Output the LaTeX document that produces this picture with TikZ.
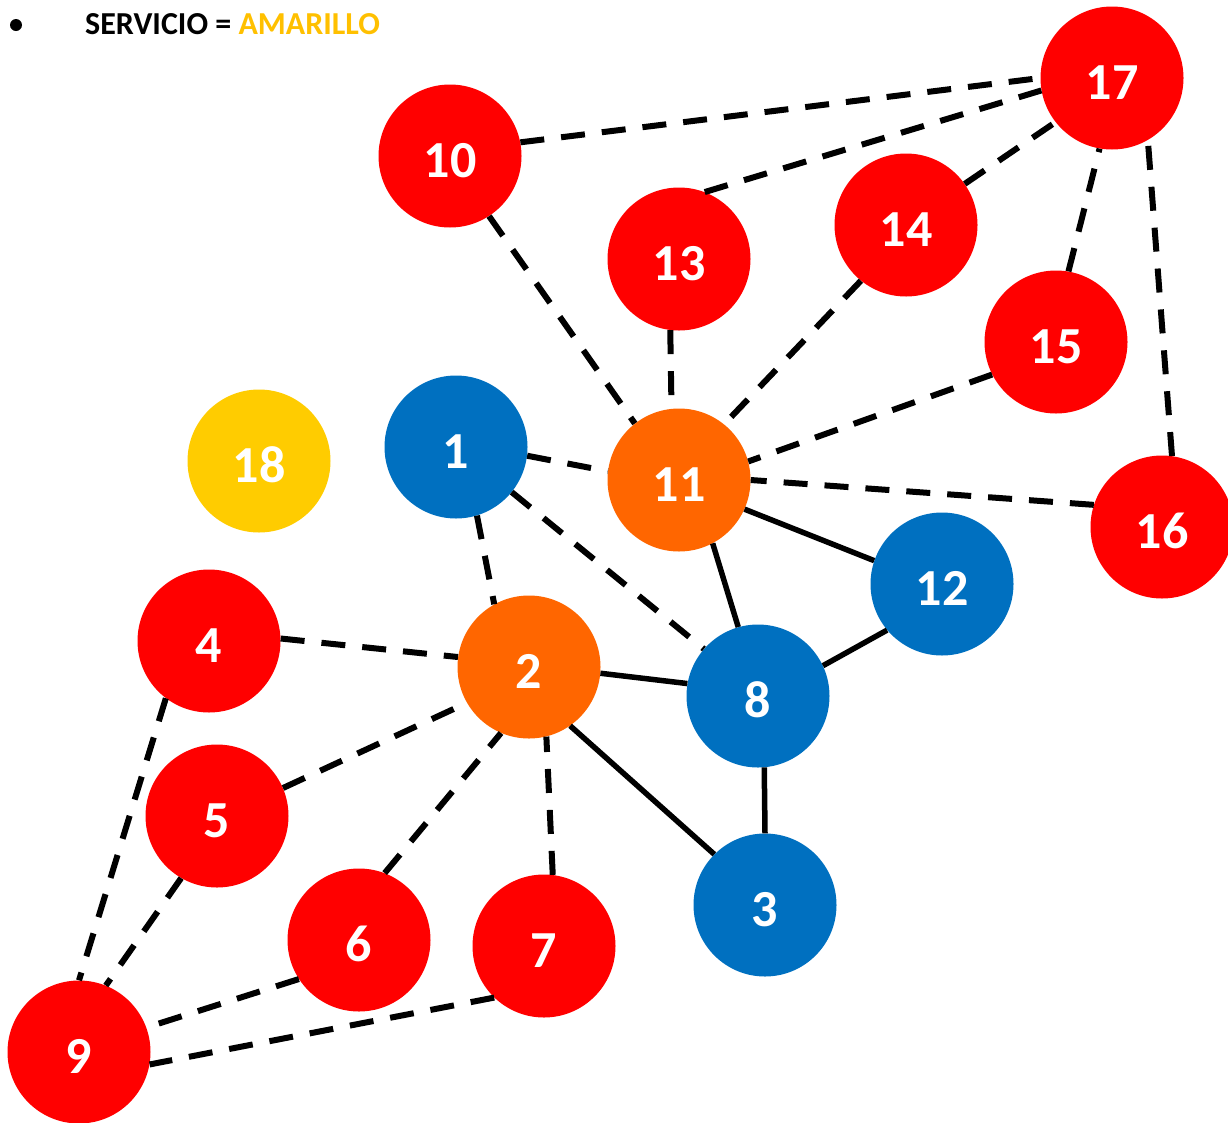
\documentclass[tikz,border=0pt]{standalone}
\usepackage{fontspec}
\setmainfont{Carlito}
\usepackage{tikz}
\definecolor{rojo}{HTML}{FF0000}
\definecolor{azul}{HTML}{0070C0}
\definecolor{naranja}{HTML}{FF6600}
\definecolor{amarillo}{HTML}{FFCC00}
\definecolor{amarillotxt}{HTML}{FFC000}
\tikzset{
  vert/.style={circle,minimum size=143pt,inner sep=0pt,text=white,
    font=\fontsize{52}{60}\selectfont\bfseries,text height=43pt,text depth=0pt},
  dashedge/.style={line width=6pt,dash pattern=on 24pt off 17pt},
  solidedge/.style={line width=5.5pt}
}
\begin{document}
\begin{tikzpicture}[x=1pt,y=-1pt]
\useasboundingbox (0,0) rectangle (1228,1122);
% title
\fill (16,25) circle (6);
\node[anchor=base west,inner sep=0pt,font=\fontsize{32}{36}\selectfont\bfseries] (title) at (85,34) {SERVICIO = \textcolor{amarillotxt}{AMARILLO}};
% vertices
\node[vert,fill=rojo] (v17) at (1112,78) {17};
\node[vert,fill=rojo] (v10) at (450,156) {10};
\node[vert,fill=rojo] (v13) at (679,259) {13};
\node[vert,fill=rojo] (v14) at (906,225) {14};
\node[vert,fill=rojo] (v15) at (1056,342) {15};
\node[vert,fill=amarillo] (v18) at (259,461) {18};
\node[vert,fill=azul] (v1) at (456,447) {1};
\node[vert,fill=naranja] (v11) at (679,480) {11};
\node[vert,fill=rojo] (v16) at (1162,527) {16};
\node[vert,fill=azul] (v12) at (942,584) {12};
\node[vert,fill=rojo] (v4) at (209,641) {4};
\node[vert,fill=naranja] (v2) at (529,667) {2};
\node[vert,fill=azul] (v8) at (758,696) {8};
\node[vert,fill=rojo] (v5) at (217,816) {5};
\node[vert,fill=rojo] (v6) at (359,940) {6};
\node[vert,fill=rojo] (v7) at (544,946) {7};
\node[vert,fill=azul] (v3) at (765,905) {3};
\node[vert,fill=rojo] (v9) at (79,1052) {9};
% dashed edges (node/angle -- node/angle)
\foreach \a/\p/\b/\q in {10/11/17/180,13/69/17/190,14/35/17/218,15/80/17/260,16/82/17/300,
  10/303/11/128,13/263/11/96,14/231/11/51,15/207/11/15,16/162/11/0,1/353/11/173,
  1/287/2/119,1/321/8/139,4/2/2/172,5/23/2/210,6/69/2/247,7/83/2/284,
  4/233/9/90,5/240/9/68,6/213/9/20,7/226/9/350}{\draw[dashedge] (v\a.\p) -- (v\b.\q);}
% solid edges
\foreach \a/\p/\b/\q in {11/336/12/161,11/298/8/106,12/220/8/25,2/355/8/170,2/305/3/135,8/275/3/90}{\draw[solidedge] (v\a.\p) -- (v\b.\q);}
\end{tikzpicture}
\end{document}
